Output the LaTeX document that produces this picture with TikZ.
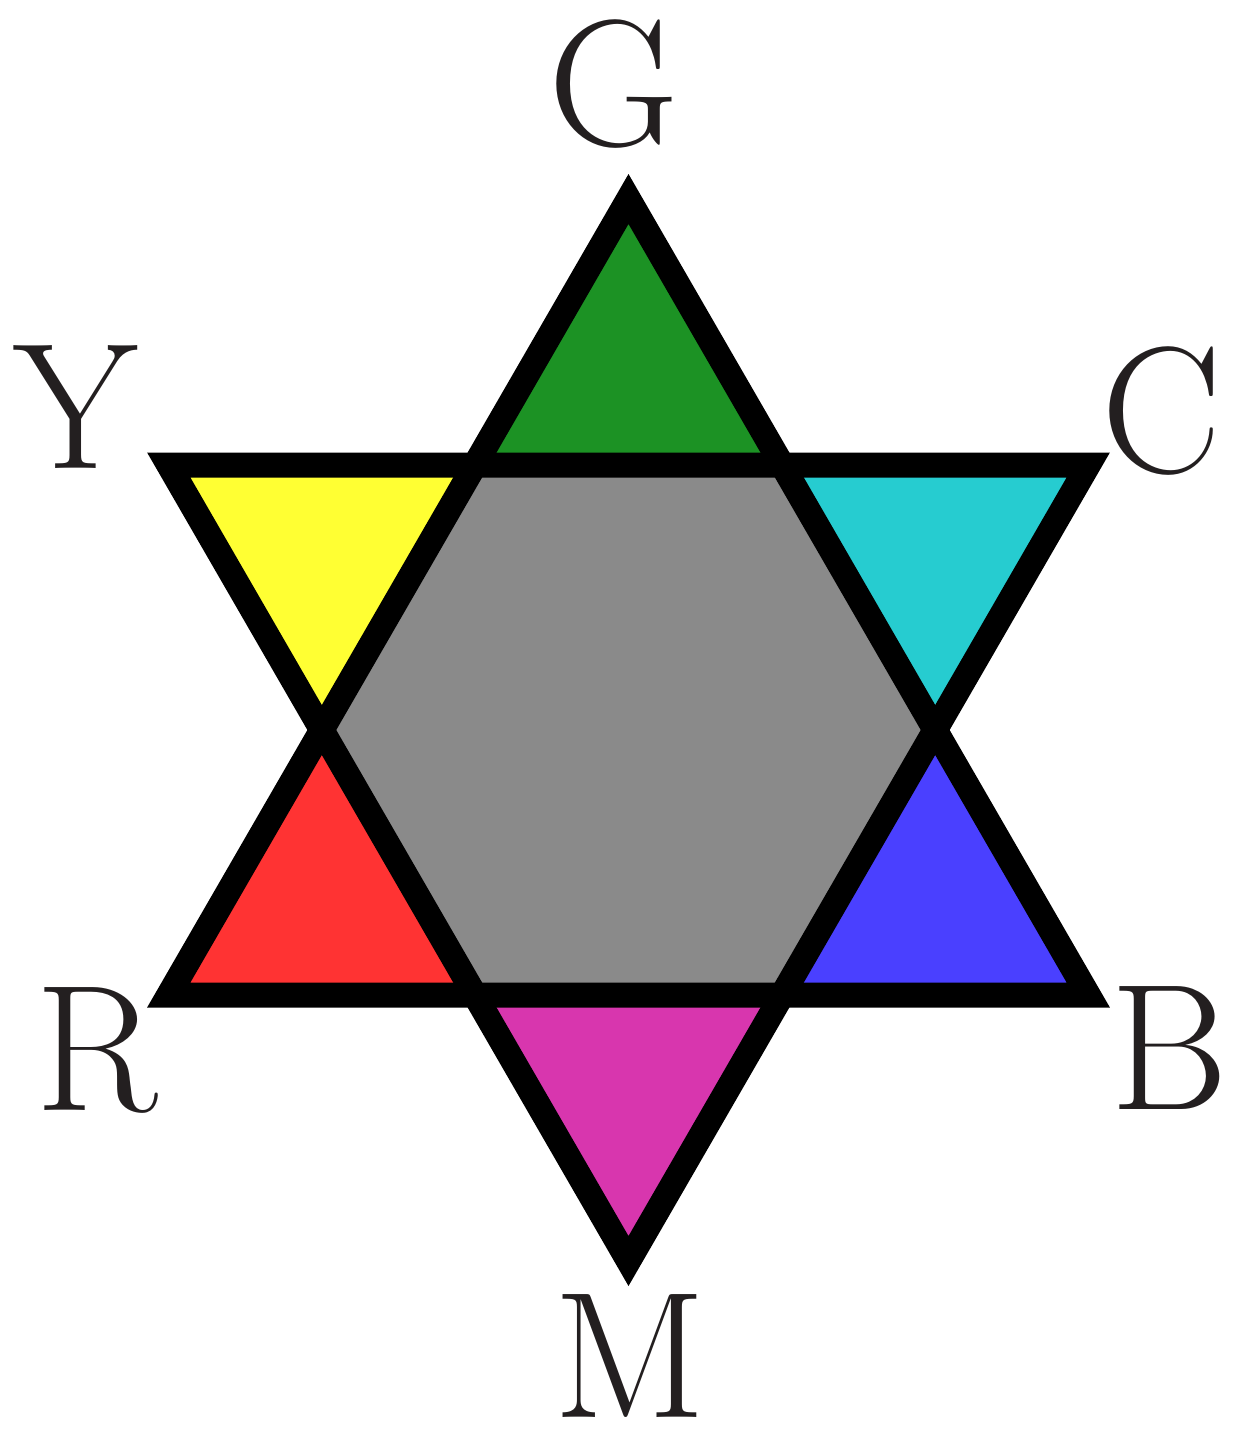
\documentclass[tikz,border=0pt]{standalone}
\definecolor{cgreen}{HTML}{1C9224}
\definecolor{cyellow}{HTML}{FFFF33}
\definecolor{ccyan}{HTML}{26CCD0}
\definecolor{cred}{HTML}{FF3333}
\definecolor{cblue}{HTML}{4A40FF}
\definecolor{cmag}{HTML}{D836AE}
\definecolor{cgray}{HTML}{8A8A8A}
\definecolor{ctext}{HTML}{231F20}
\begin{document}
\begin{tikzpicture}[x=1pt,y=-1pt,
  outline/.style={draw=black,line width=25pt,line join=miter},
  lbl/.style={inner sep=0pt,font=\fontsize{180}{180}\selectfont,text=ctext}]
\useasboundingbox (0,0) rectangle (1232,1437);
% vertices
\coordinate (G) at (628.5,199);
\coordinate (R) at (168.75,995);
\coordinate (B) at (1088.25,995);
\coordinate (Y) at (168.75,465);
\coordinate (C) at (1088.25,465);
\coordinate (M) at (628.5,1261);
% hexagon vertices
\coordinate (h1) at (475.25,465);
\coordinate (h2) at (781.75,465);
\coordinate (h3) at (935,730);
\coordinate (h4) at (781.75,995);
\coordinate (h5) at (475.25,995);
\coordinate (h6) at (322,730);
% fills
\fill[cgray] (h1)--(h2)--(h3)--(h4)--(h5)--(h6)--cycle;
\fill[cgreen] (G)--(h2)--(h1)--cycle;
\fill[cyellow] (Y)--(h1)--(h6)--cycle;
\fill[ccyan] (C)--(h3)--(h2)--cycle;
\fill[cred] (R)--(h6)--(h5)--cycle;
\fill[cblue] (B)--(h4)--(h3)--cycle;
\fill[cmag] (M)--(h5)--(h4)--cycle;
% outlines
\draw[outline] (G)--(B)--(R)--cycle;
\draw[outline] (Y)--(C)--(M)--cycle;
% labels
\node[lbl] (lG) at (614,84) {G};
\node[lbl] (lY) at (76,407) {Y};
\node[lbl] (lC) at (1162,411) {C};
\node[lbl] (lR) at (97,1050) {R};
\node[lbl] (lB) at (1169,1048) {B};
\node[lbl] (lM) at (630,1356) {M};
\end{tikzpicture}
\end{document}
